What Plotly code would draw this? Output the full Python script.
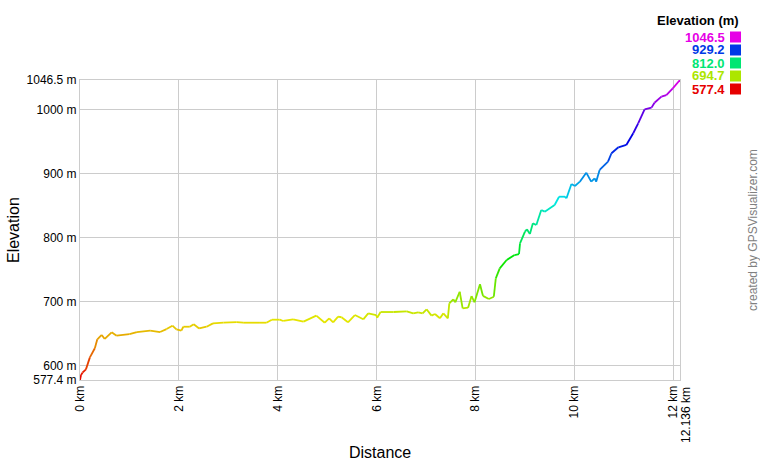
import colorsys
import plotly.graph_objects as go

dist_km = [0, 0.02, 0.05, 0.12, 0.2, 0.3, 0.35, 0.44, 0.5, 0.64, 0.74, 1.0, 1.15, 1.42, 1.62, 1.75,
           1.87, 1.95, 2.05, 2.09, 2.22, 2.3, 2.41, 2.56, 2.69, 2.9, 3.17, 3.3, 3.64, 3.77, 3.88,
           4.04, 4.11, 4.31, 4.52, 4.78, 4.95, 5.04, 5.12, 5.22, 5.29, 5.42, 5.56, 5.73, 5.83,
           5.99, 6.01, 6.08, 6.34, 6.61, 6.74, 6.84, 6.93, 7.01, 7.11, 7.18, 7.28, 7.35, 7.44,
           7.47, 7.55, 7.59, 7.68, 7.74, 7.85, 7.92, 7.98, 8.09, 8.15, 8.27, 8.37, 8.41, 8.49,
           8.63, 8.79, 8.88, 8.9, 9.0, 9.04, 9.1, 9.16, 9.23, 9.33, 9.4, 9.6, 9.69, 9.81, 9.84,
           9.94, 10.01, 10.11, 10.24, 10.34, 10.41, 10.44, 10.51, 10.68, 10.75, 10.89, 11.05,
           11.19, 11.29, 11.42, 11.56, 11.62, 11.76, 11.86, 11.99, 12.136]
elev_m = [577.4, 585, 588.8, 594, 612.8, 627, 641, 647.8, 641.6, 652, 646.7, 649, 652.4, 654.5,
          652.4, 657, 662.3, 656.6, 654.5, 660.7, 660.7, 664.5, 658, 660.7, 666, 667, 668, 667,
          667, 667, 671.7, 671.7, 669.7, 672.3, 668.6, 678, 667, 673.9, 667.6, 676.4, 675.5,
          667.6, 679, 672.3, 681.6, 679, 674.8, 683.7, 683.7, 684.7, 681.6, 683, 681.6, 688,
          678, 680.6, 673.9, 681.6, 673.9, 697.3, 703.6, 698.9, 715.4, 689.5, 690.5, 708.7,
          698.9, 727, 709, 704, 707.6, 736.4, 752, 765, 772.8, 774.4, 791, 809.3, 813, 805.7,
          822.4, 819.8, 843.2, 840.6, 851, 864, 864, 861.5, 884, 880.8, 887.5, 901.6, 887.5,
          892.8, 887.5, 905.8, 918.8, 932, 941.3, 944.9, 963.2, 978.8, 1000.7, 1003.3, 1011,
          1020.4, 1023, 1033.5, 1046.5]

x_tick_vals = [0, 2, 4, 6, 8, 10, 12, 12.136]
x_tick_text = ["0 km", "2 km", "4 km", "6 km", "8 km", "10 km", "12 km", "12.136 km"]
y_tick_vals = [577.4, 600, 700, 800, 900, 1000, 1046.5]
y_tick_text = ["577.4 m", "600 m", "700 m", "800 m", "900 m", "1000 m", "1046.5 m"]
legend_vals = ["1046.5", "929.2", "812.0", "694.7", "577.4"]

EMIN, EMAX = 577.4, 1046.5
FONT = "Liberation Sans, Arial, sans-serif"


def elev_color(e):
    f = (e - EMIN) / (EMAX - EMIN)
    f = min(max(f, 0), 1)
    r, g, b = colorsys.hsv_to_rgb(f * 300 / 360, 1.0, 0.9)
    return "rgb(%d,%d,%d)" % (round(r * 255), round(g * 255), round(b * 255))


def px(sx):
    return (sx - 80) / 600


def py(sy):
    return (380 - sy) / 300


fig = go.Figure()
for i in range(len(dist_km) - 1):
    e = (elev_m[i] + elev_m[i + 1]) / 2
    fig.add_trace(go.Scatter(
        x=[dist_km[i], dist_km[i + 1]], y=[elev_m[i], elev_m[i + 1]],
        mode="lines", line=dict(color=elev_color(e), width=1.8),
        showlegend=False, hoverinfo="skip"))

# the last (end-of-track) tick label is drawn as an annotation, nudged right as in the reference
axis_tick_text = x_tick_text[:-1] + [""]

fig.update_layout(
    width=760, height=460,
    margin=dict(l=80, r=80, t=80, b=80, autoexpand=False),
    paper_bgcolor="white", plot_bgcolor="white",
    font=dict(family=FONT, size=12, color="black"),
    xaxis=dict(range=[0, 12.136], tickvals=x_tick_vals, ticktext=axis_tick_text,
               tickangle=-90, showgrid=True, gridcolor="#cccccc", gridwidth=1,
               zeroline=False, showline=True, linecolor="#cccccc", mirror=True,
               ticks="", tickfont=dict(size=12), automargin=False),
    yaxis=dict(range=[577.4, 1046.5], tickvals=y_tick_vals, ticktext=y_tick_text,
               showgrid=True, gridcolor="#cccccc", gridwidth=1,
               zeroline=False, showline=True, linecolor="#cccccc", mirror=True,
               ticks="", tickfont=dict(size=12), automargin=False),
)

annotations = [
    dict(text=x_tick_text[-1], xref="paper", yref="paper", x=px(686), y=py(385),
         textangle=-90, xanchor="center", yanchor="top", showarrow=False,
         font=dict(size=12)),
    dict(text="Distance", xref="paper", yref="paper", x=px(380), y=py(452),
         xanchor="center", yanchor="middle", showarrow=False, font=dict(size=16)),
    dict(text="Elevation", xref="paper", yref="paper", x=px(13), y=py(230), textangle=-90,
         xanchor="center", yanchor="middle", showarrow=False, font=dict(size=16)),
    dict(text="<b>Elevation (m)</b>", xref="paper", yref="paper",
         x=px(741), y=py(20), xanchor="right", yanchor="middle",
         showarrow=False, font=dict(size=13, color="black")),
]
shapes = []
legend_elev = [float(v) for v in legend_vals]
for k, v in enumerate(legend_vals):
    ypx = 37 + 13 * k
    col = elev_color(legend_elev[k])
    annotations.append(dict(text="<b>%s</b>" % v, xref="paper", yref="paper",
                            x=px(727), y=py(ypx),
                            xanchor="right", yanchor="middle", showarrow=False,
                            font=dict(size=13, color=col)))
    shapes.append(dict(type="rect", xref="paper", yref="paper",
                       x0=px(730), x1=px(741),
                       y0=py(ypx + 5.5), y1=py(ypx - 5.5),
                       fillcolor=col, line=dict(width=0)))

annotations.append(dict(text="created by GPSVisualizer.com", xref="paper", yref="paper",
                        x=px(753), y=py(230), textangle=-90,
                        xanchor="center", yanchor="middle", showarrow=False,
                        font=dict(size=12, color="#808080")))

fig.update_layout(annotations=annotations, shapes=shapes)
# remove the browser's default 8px body margin so the 760x460 figure fills the window
fig.write_html("out.html", config={"displayModeBar": False},
               post_script="document.body.style.margin='0';")
